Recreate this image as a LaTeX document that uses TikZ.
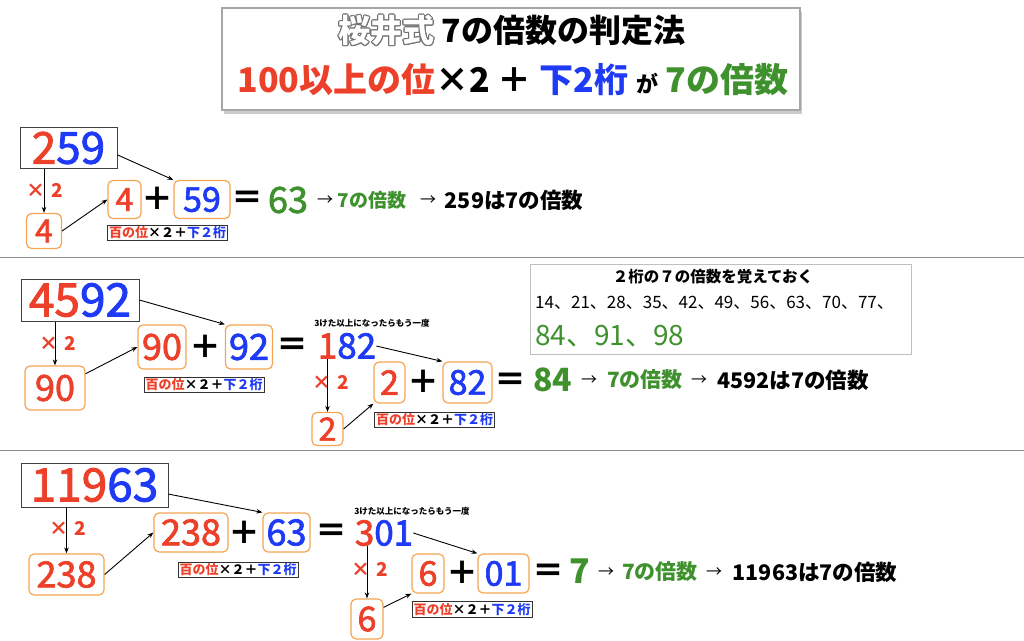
\documentclass[tikz,border=0pt]{standalone}
\usepackage{fontspec}
\setmainfont{Noto Sans CJK JP}
\newfontfamily\numfont{Noto Sans CJK JP}[FakeBold=2]
\usepackage[copies]{contour}
\usetikzlibrary{arrows.meta,shadows}

\definecolor{numred}{RGB}{236,64,42}
\definecolor{numblue}{RGB}{30,58,245}
\definecolor{numgreen}{RGB}{62,145,45}
\definecolor{boxorange}{RGB}{245,165,80}

\newcommand{\fsz}[1]{\fontsize{#1}{#1}\selectfont}
\newcommand{\colR}[1]{\textcolor{numred}{#1}}
\newcommand{\colB}[1]{\textcolor{numblue}{#1}}
\newcommand{\colG}[1]{\textcolor{numgreen}{#1}}
\newcommand{\tagtext}{\colR{百の位}×２＋\colB{下２桁}}
\contourlength{0.9pt}
\contournumber{16}

\begin{document}
\begin{tikzpicture}[x=1pt,y=-1pt]

		\tikzstyle{bigbox}=[draw=black!75,line width=1pt,inner sep=0pt]
		\tikzstyle{numbox}=[draw=boxorange,line width=1.2pt,rounded corners=5pt,inner sep=0pt]
		\tikzstyle{tagbox}=[draw=black!80,line width=0.8pt,inner sep=1.5pt,font=\fsz{13}\bfseries]
		\tikzstyle{link}=[line width=0.9pt,-{Stealth[length=6pt,width=4.5pt]}]
		\tikzstyle{sym}=[inner sep=0pt,font=\fsz{32}\bfseries]
		\tikzstyle{times}=[inner sep=0pt,text=numred,font=\fsz{19}\bfseries]
		\tikzstyle{plain}=[inner sep=0pt]
		\tikzstyle{rule}=[draw=black!45,line width=1pt]

		\useasboundingbox (0,0) rectangle (1024,640);

		% title
		\node[draw=black!35,line width=1.2pt,fill=white,minimum width=578,minimum height=102,
			drop shadow={shadow xshift=2pt,shadow yshift=-4pt,opacity=0.4}] (title) at (511,59) {};
		\node[plain,font=\fsz{32}\bfseries] (title1) at (512,31) {{\color{white}\contour{black!55}{桜井式}} 7の倍数の判定法};
		\node[plain,font=\fsz{34}\bfseries] (title2) at (513,80) {\colR{100以上の位}×2 ＋ \colB{下2桁} {\fsz{22}が} \colG{7の倍数}};

		\draw[rule] (0,257) -- (1024,257);
		\draw[rule] (0,450) -- (1024,450);

		% 259
		\node[bigbox,minimum width=97,minimum height=41,font=\numfont\fsz{44}] (n259) at (68.5,148) {\colR{2}\colB{59}};
		\node[numbox,minimum width=35,minimum height=35,font=\numfont\fsz{32},text=numred] (m4) at (44,231) {4};
		\node[numbox,minimum width=33,minimum height=38,font=\numfont\fsz{32},text=numred] (p4) at (124.5,199.5) {4};
		\node[sym] (plus1) at (157,199) {＋};
		\node[numbox,minimum width=56,minimum height=38,font=\numfont\fsz{34},text=numblue] (q59) at (202,199.5) {59};
		\node[sym] (eq1) at (247,200) {＝};
		\node[plain,font=\numfont\fsz{36},text=numgreen] (r1) at (288,200) {63};
		\node[plain,font=\fsz{16}] (a1) at (325,201) {→};
		\node[plain,font=\fsz{19}\bfseries,text=numgreen] (k1) at (372,200) {7の倍数};
		\node[plain,font=\fsz{16}] (b1) at (428,201) {→};
		\node[plain,font=\fsz{21.5}\bfseries] (c1) at (514,200) {259は7の倍数};
		\node[tagbox] (t1) at (167.5,233) {\tagtext};
		\node[times] (x1) at (45,190) {×\hspace{6pt}2};

		\draw[link] (n259.south -| m4.north) -- (m4.north);
		\draw[link] (m4.east) -- (p4.west);
		\draw[link] (n259.-8) -- (q59.north west);

		% 4592
		\node[bigbox,minimum width=118,minimum height=42,font=\numfont\fsz{46}] (n4592) at (80,300) {\colR{45}\colB{92}};
		\node[numbox,minimum width=60,minimum height=44,font=\numfont\fsz{36},text=numred] (m90) at (55,388) {90};
		\node[numbox,minimum width=48,minimum height=44,font=\numfont\fsz{36},text=numred] (p90) at (162,347) {90};
		\node[sym] (plus2) at (205,347) {＋};
		\node[numbox,minimum width=47,minimum height=44,font=\numfont\fsz{36},text=numblue] (q92) at (249,347) {92};
		\node[sym] (eq2) at (292,347) {＝};
		\node[plain,font=\numfont\fsz{35}] (n182) at (347,346) {\colR{1}\colB{82}};
		\node[plain,font=\fsz{8.5}\bfseries] (note1) at (372,323) {3けた以上になったらもう一度};
		\node[tagbox] (t2) at (204,385) {\tagtext};
		\node[times] (x2) at (58,343) {×\hspace{6pt}2};
		\node[numbox,minimum width=31,minimum height=33,font=\numfont\fsz{32},text=numred] (m2) at (327.5,429) {2};
		\node[numbox,minimum width=31,minimum height=41,font=\numfont\fsz{34},text=numred] (p2) at (389.5,382.5) {2};
		\node[sym] (plus3) at (423,382) {＋};
		\node[numbox,minimum width=49,minimum height=41,font=\numfont\fsz{34},text=numblue] (q82) at (467.5,382.5) {82};
		\node[sym] (eq3) at (510,382) {＝};
		\node[tagbox] (t3) at (434.5,420) {\tagtext};
		\node[times] (x3) at (331,382) {×\hspace{6pt}2};
		\node[plain,font=\fsz{32}\bfseries,text=numgreen] (r2) at (552.5,380) {84};
		\node[plain,font=\fsz{16}] (a2) at (589,381) {→};
		\node[plain,font=\fsz{21}\bfseries,text=numgreen] (k2) at (645,380) {7の倍数};
		\node[plain,font=\fsz{16}] (b2) at (699,381) {→};
		\node[plain,font=\fsz{21.5}\bfseries] (c2) at (793,380) {4592は7の倍数};

		\draw[link] (n4592.south -| m90.north) -- (m90.north);
		\draw[link] (m90.25) -- (p90.west);
		\draw[link] (n4592.east) -- (q92.north west);
		\draw[link] (n182.south -| m2.north) -- (m2.north);
		\draw[link] (m2.east) -- (p2.south west);
		\draw[link] (n182.east) -- (q82.north west);

		% memo
		\node[draw=black!25,line width=1pt,minimum width=381,minimum height=90] (memo) at (720.5,309) {};
		\node[plain,font=\fsz{15.5}\bfseries] (memo1) at (713,277) {２桁の７の倍数を覚えておく};
		\node[plain,anchor=west,font=\fsz{17}] (memo2) at (535,303) {14、21、28、35、42、49、56、63、70、77、};
		\node[plain,anchor=west,font=\fsz{28},text=numgreen] (memo3) at (535,336) {84、91、98};

		% 11963
		\node[bigbox,minimum width=147,minimum height=44,font=\numfont\fsz{46}] (n11963) at (94.5,485) {\colR{119}\colB{63}};
		\node[numbox,minimum width=75,minimum height=41,font=\numfont\fsz{36},text=numred] (m238) at (66.5,574.5) {238};
		\node[numbox,minimum width=74,minimum height=39,font=\numfont\fsz{36},text=numred] (p238) at (191,532.5) {238};
		\node[sym] (plus4) at (244,533) {＋};
		\node[numbox,minimum width=47,minimum height=39,font=\numfont\fsz{36},text=numblue] (q63) at (286.5,532.5) {63};
		\node[sym] (eq4) at (331,533) {＝};
		\node[plain,font=\numfont\fsz{35}] (n301) at (384,533) {\colR{3}\colB{01}};
		\node[plain,font=\fsz{8.5}\bfseries] (note2) at (412,511) {3けた以上になったらもう一度};
		\node[tagbox] (t4) at (238,570) {\tagtext};
		\node[times] (x4) at (68,528) {×\hspace{6pt}2};
		\node[numbox,minimum width=32,minimum height=40,font=\numfont\fsz{34},text=numred] (m6) at (367,619) {6};
		\node[numbox,minimum width=32,minimum height=39,font=\numfont\fsz{34},text=numred] (p6) at (428,573.5) {6};
		\node[sym] (plus5) at (462,573) {＋};
		\node[numbox,minimum width=51,minimum height=39,font=\numfont\fsz{34},text=numblue] (q01) at (503.5,573.5) {01};
		\node[sym] (eq5) at (548,573) {＝};
		\node[tagbox] (t5) at (472,609.5) {\tagtext};
		\node[times] (x5) at (370,569) {×\hspace{6pt}2};
		\node[plain,font=\fsz{34}\bfseries,text=numgreen] (r3) at (580,571) {7};
		\node[plain,font=\fsz{16}] (a3) at (606,573) {→};
		\node[plain,font=\fsz{21}\bfseries,text=numgreen] (k3) at (660,572) {7の倍数};
		\node[plain,font=\fsz{16}] (b3) at (714,573) {→};
		\node[plain,font=\fsz{21.5}\bfseries] (c3) at (815,572) {11963は7の倍数};

		\draw[link] (n11963.south -| m238.north) -- (m238.north);
		\draw[link] (m238.east) -- (p238.west);
		\draw[link] (n11963.-7) -- (q63.north west);
		\draw[link] (n301.south -| m6.north) -- (m6.north);
		\draw[link] (m6.35) -- (p6.south west);
		\draw[link] (n301.east) -- (q01.north west);

\end{tikzpicture}
\end{document}
